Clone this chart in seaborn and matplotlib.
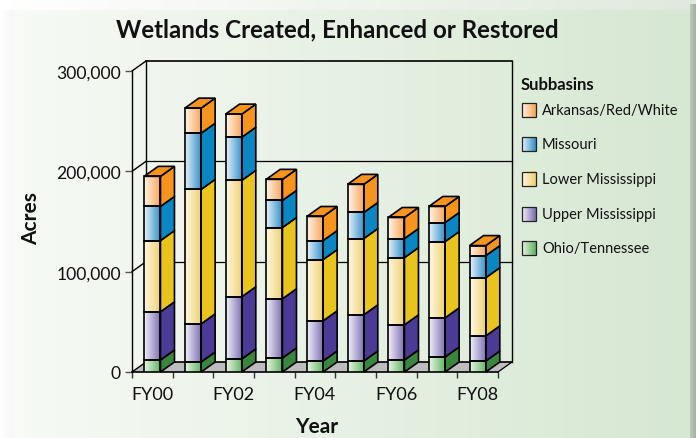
"""Stacked pseudo-3D bars of wetland acres by subbasin, FY00 to FY08."""

import matplotlib.pyplot as plt
import numpy as np
import pandas as pd
import seaborn as sns
from matplotlib.colors import to_rgb
from matplotlib.patches import Polygon, Rectangle

# ==============================================================================
# DATA
# ==============================================================================
YEARS = ["FY00", "FY01", "FY02", "FY03", "FY04", "FY05", "FY06", "FY07", "FY08"]
SERIES = ["Ohio/Tennessee", "Upper Mississippi", "Lower Mississippi", "Missouri",
          "Arkansas/Red/White"]
OHIO = [12000, 10000, 13000, 14000, 11000, 11000, 12000, 15000, 11000]
UPPER = [48000, 38000, 62000, 59000, 40000, 46000, 35000, 39000, 25000]
LOWER = [71000, 134000, 116000, 71000, 61000, 76000, 67000, 76000, 58000]
MISSOURI = [34000, 56000, 43000, 27000, 19000, 26000, 19000, 19000, 22000]
ARKANSAS = [30000, 25000, 23000, 21000, 24000, 28000, 21000, 16000, 10000]
VALUES = [OHIO, UPPER, LOWER, MISSOURI, ARKANSAS]
Y_TICKS = [0, 100000, 200000, 300000]

# (light front, dark front, side face)
COLORS = [
    ("#e9f5e5", "#5cb25e", "#3a8540"),
    ("#f2f0f9", "#7a6bb0", "#4b3b97"),
    ("#fdf8e2", "#eecf6e", "#e9c41e"),
    ("#e8f1f9", "#2c8dc8", "#0a86c2"),
    ("#fff4e8", "#f8a356", "#f7941e"),
]

FONT = "Lato"
W, H = 696, 439
DX = 14 / 40.67  # depth offset in category units
DY = 10 / 1.004 * 1000  # depth offset in acres
EDGE = 1.2


def gradient(left, right, n=64):
    """One row RGB image running from left colour to right colour."""
    ramp = np.linspace(0, 1, n)[None, :, None]
    return (1 - ramp) * np.array(to_rgb(left)) + ramp * np.array(to_rgb(right))


def draw_background(bg):
    """Paper panel with its soft shadow, drawn in pixel coordinates."""
    bg.imshow(gradient("#ffffff", "#e0e9dc"), extent=(0, W, 11, 0), aspect="auto")
    bg.imshow(gradient("#f7faf5", "#d6e7d2"), extent=(13, 690, H, 11), aspect="auto")
    bg.imshow(gradient("#ffffff", "#f7f7f7", 8), extent=(0, 13, H, 11), aspect="auto")
    bg.imshow(gradient("#b9c8b9", "#a3b2a3", 8), extent=(690, W, H, 5), aspect="auto")
    bg.set_xlim(0, W)
    bg.set_ylim(H, 0)
    bg.axis("off")


def draw_legend(bg):
    bg.text(521, 85, "Subbasins", fontsize=12, fontweight="bold", family=FONT,
            va="center", ha="left", color="#111111")
    rows = [111, 145, 180, 215, 249]
    for row, name, (light, dark, _) in zip(rows, SERIES[::-1], COLORS[::-1]):
        bg.imshow(gradient(light, dark), extent=(522, 536, row + 7, row - 7),
                  aspect="auto", zorder=2)
        bg.add_patch(Rectangle((522, row - 7), 14, 14, fc="none", ec="#222222",
                               lw=0.9, zorder=3))
        bg.text(542, row, name, fontsize=10.5, family=FONT, va="center", ha="left",
                color="#111111")
    bg.set_xlim(0, W)
    bg.set_ylim(H, 0)


def draw_walls(ax):
    """Floor, back wall and gridlines of the fake 3D box."""
    left, right = -0.5, 8.5
    ax.add_patch(Polygon([(left, 0), (right, 0), (right + DX, DY), (left + DX, DY)],
                         fc="#bdbdbf", ec="none", zorder=1, clip_on=False))
    for tick in Y_TICKS:
        ax.plot([left, left + DX], [tick, tick + DY], color="black", lw=1,
                zorder=1.5, clip_on=False)
        ax.plot([left + DX, right + DX], [tick + DY, tick + DY], color="black",
                lw=1.2 if tick in (0, 300000) else 0.9, zorder=1.5, clip_on=False)
    ax.plot([right, right + DX], [0, DY], color="black", lw=0.9, zorder=1.5, clip_on=False)
    ax.plot([left + DX, left + DX], [DY, 300000 + DY], color="black", lw=1, zorder=1.5,
            clip_on=False)
    ax.plot([right + DX, right + DX], [DY, 300000 + DY], color="black", lw=1, zorder=1.5,
            clip_on=False)
    ax.plot([left, right], [0, 0], color="black", lw=1.2, zorder=1.6, clip_on=False)


def draw_bars(ax):
    df = pd.DataFrame({"Year": YEARS})
    bottoms = np.zeros(len(YEARS))
    for name, vals, (light, dark, side) in zip(SERIES, VALUES, COLORS):
        df["Acres"] = vals
        before = len(ax.patches)
        sns.barplot(data=df, x="Year", y="Acres", order=YEARS, bottom=bottoms,
                    width=0.4, color=light, errorbar=None, ax=ax, zorder=3)
        for bar in ax.patches[before:]:
            x0, w = bar.get_x(), bar.get_width()
            y0, h = bar.get_y(), bar.get_height()
            bar.set_facecolor("none")
            bar.set_edgecolor("black")
            bar.set_linewidth(EDGE)
            bar.set_zorder(3.2)
            ax.imshow(gradient(light, dark), extent=(x0, x0 + w, y0, y0 + h),
                      aspect="auto", origin="lower", zorder=3)
            ax.add_patch(Polygon(
                [(x0 + w, y0), (x0 + w + DX, y0 + DY), (x0 + w + DX, y0 + h + DY),
                 (x0 + w, y0 + h)],
                fc=side, ec="black", lw=EDGE, zorder=3.1, clip_on=False))
            if name == SERIES[-1]:
                ax.add_patch(Polygon(
                    [(x0, y0 + h), (x0 + w, y0 + h), (x0 + w + DX, y0 + h + DY),
                     (x0 + DX, y0 + h + DY)],
                    fc=side, ec="black", lw=EDGE, zorder=3.1, clip_on=False))
        bottoms = bottoms + np.array(vals)


def main():
    fig = plt.figure(figsize=(W / 100, H / 100), dpi=100)
    bg = fig.add_axes([0, 0, 1, 1], zorder=0)
    draw_background(bg)
    draw_legend(bg)

    ax = fig.add_axes([132 / W, (H - 373) / H, 366 / W, 301 / H], zorder=1)
    ax.patch.set_visible(False)
    draw_walls(ax)
    draw_bars(ax)

    ax.set_xlim(-0.5, 8.5)
    ax.set_ylim(0, 300000)
    ax.set_xlabel("")
    ax.set_ylabel("")
    ax.set_xticks(range(0, 9, 2), YEARS[::2], fontsize=13, family=FONT)
    ax.set_xticks(np.arange(-0.5, 9), minor=True)
    ax.tick_params(axis="x", which="major", length=0, pad=10, labelcolor="#111111")
    ax.tick_params(axis="x", which="minor", length=4.5, width=1, color="#333333")
    ax.set_yticks(Y_TICKS, [f"{t:,}" for t in Y_TICKS], fontsize=12.6, family=FONT)
    ax.tick_params(axis="y", length=5, width=1, color="#555555", pad=3, labelcolor="#111111")
    sns.despine(ax=ax, top=True, right=True, bottom=True)
    ax.spines["left"].set_linewidth(1)

    bg.text(337, 30, "Wetlands Created, Enhanced or Restored", fontsize=17.4,
            fontweight="bold", family=FONT, ha="center", va="center", color="#111111")
    bg.text(31, 219, "Acres", fontsize=15, fontweight="bold", family=FONT, rotation=90,
            ha="center", va="center", color="#111111")
    bg.text(317, 427, "Year", fontsize=15, fontweight="bold", family=FONT, ha="center",
            va="center", color="#111111")

    fig.savefig("out.png", dpi=100)
    plt.close(fig)


if __name__ == "__main__":
    main()
